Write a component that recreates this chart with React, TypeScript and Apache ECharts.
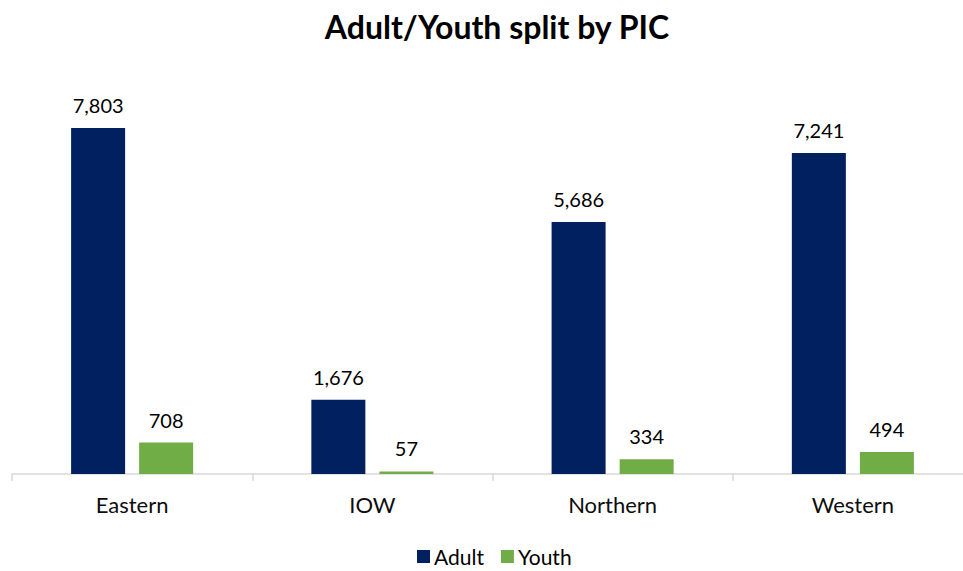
import React, { useEffect, useRef } from "react";
import * as echarts from "echarts";

const categories = ["Eastern", "IOW", "Northern", "Western"];
const adultValues = [7803, 1676, 5686, 7241];
const youthValues = [708, 57, 334, 494];
const seriesNames = ["Adult", "Youth"];
const titleText = "Adult/Youth split by PIC";

const FONT = "Lato, 'Open Sans', sans-serif";

export default function App() {
  const ref = useRef<HTMLDivElement>(null);
  useEffect(() => {
    document.body.style.margin = "0";
    const chart = echarts.init(ref.current!, null, { renderer: "svg" });
    const labelCfg = {
      show: true,
      position: "top",
      distance: 13,
      color: "#000000",
      fontSize: 20,
      fontFamily: FONT,
      formatter: (p: any) => Number(p.value).toLocaleString("en-US"),
    };
    chart.setOption({
      animation: false,
      backgroundColor: "#ffffff",
      title: {
        text: titleText,
        left: 492,
        textAlign: "center",
        top: 5,
        textStyle: { fontFamily: FONT, fontSize: 32, fontWeight: "bold", color: "#000000" },
      },
      legend: {
        data: seriesNames,
        left: 412,
        top: 541,
        itemWidth: 13,
        itemHeight: 13,
        itemGap: 17,
        icon: "rect",
        textStyle: { fontFamily: FONT, fontSize: 21, color: "#000000", padding: [0, 0, 0, -1] },
      },
      grid: { left: 12, right: 17, top: 75, bottom: 97, containLabel: false },
      xAxis: {
        type: "category",
        data: categories,
        axisLine: { show: true, lineStyle: { color: "#d9d9d9", width: 1.5 } },
        axisTick: { show: true, length: 7, alignWithLabel: false, lineStyle: { color: "#d9d9d9", width: 1.5 } },
        axisLabel: { margin: 19, fontFamily: FONT, fontSize: 22, color: "#0d0d0d" },
      },
      yAxis: {
        type: "value",
        min: 0,
        max: 9000,
        show: false,
        splitLine: { show: false },
      },
      series: [
        {
          name: seriesNames[0],
          type: "bar",
          data: adultValues,
          barWidth: 54,
          barGap: "26%",
          itemStyle: { color: "#002060" },
          label: labelCfg,
        },
        {
          name: seriesNames[1],
          type: "bar",
          data: youthValues,
          barWidth: 54,
          itemStyle: { color: "#70AD47" },
          label: labelCfg,
        },
      ],
    });
    return () => chart.dispose();
  }, []);
  return (
    <div style={{ width: 963, height: 571, position: "absolute", left: 0, top: 0, overflow: "hidden" }}>
      <div ref={ref} style={{ width: 990, height: 571 }} />
    </div>
  );
}
